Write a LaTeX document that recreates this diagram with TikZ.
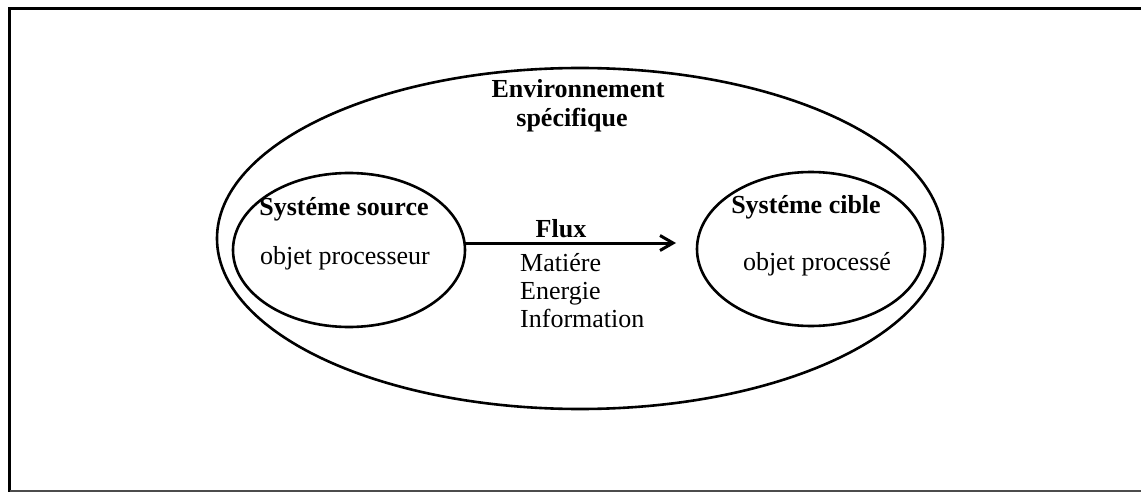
\documentclass[tikz,border=0pt]{standalone}
\usepackage{fontspec}
\setmainfont{Liberation Serif}
\usetikzlibrary{arrows.meta}
\begin{document}
\begin{tikzpicture}[x=1pt,y=-1pt,
  ring/.style={draw=black, line width=2.6pt, ellipse},
  title/.style={font=\fontsize{26}{30}\selectfont\bfseries, anchor=base, inner sep=0pt},
  label/.style={font=\fontsize{26}{30}\selectfont, anchor=base, inner sep=0pt},
  flow/.style={line width=3pt, -{Straight Barb[length=13pt,width=15pt,line width=3pt]}}]
  \useasboundingbox (0,0) rectangle (1141,492);
  \clip (0,0) rectangle (1141,492);
  % page frame
  \draw[line width=3.5pt] (9.5,508) -- (9.5,8.5) -- (1160,8.5);
  \draw[line width=1.5pt, black!70] (9.5,491) -- (1160,491);
  % environment and the two systems
  \draw[line width=2.6pt] (580,238.5) ellipse [x radius=363, y radius=170.5];
  \draw[line width=2.6pt] (349,250) ellipse [x radius=116, y radius=77];
  \draw[line width=2.6pt] (811,249) ellipse [x radius=114, y radius=77];
  \coordinate (srcE) at (465,243);
  \coordinate (tgtW) at (676,243);
  % texts
  \node[title] (env1) at (578,98) {Environnement};
  \node[title] (env2) at (572,127) {spécifique};
  \node[title] (src) at (344,215) {Systéme source};
  \node[label] (srcobj) at (345,264) {objet processeur};
  \node[title] (tgt) at (806,213) {Systéme cible};
  \node[label] (tgtobj) at (817,270) {objet processé};
  \node[title] (flux) at (561,237) {Flux};
  \node[label, anchor=base west] (m) at (520,271) {Matiére};
  \node[label, anchor=base west] (e) at (520,299) {Energie};
  \node[label, anchor=base west] (i) at (520,327) {Information};
  % flow arrow
  \draw[flow] (srcE) -- (tgtW);
\end{tikzpicture}
\end{document}
